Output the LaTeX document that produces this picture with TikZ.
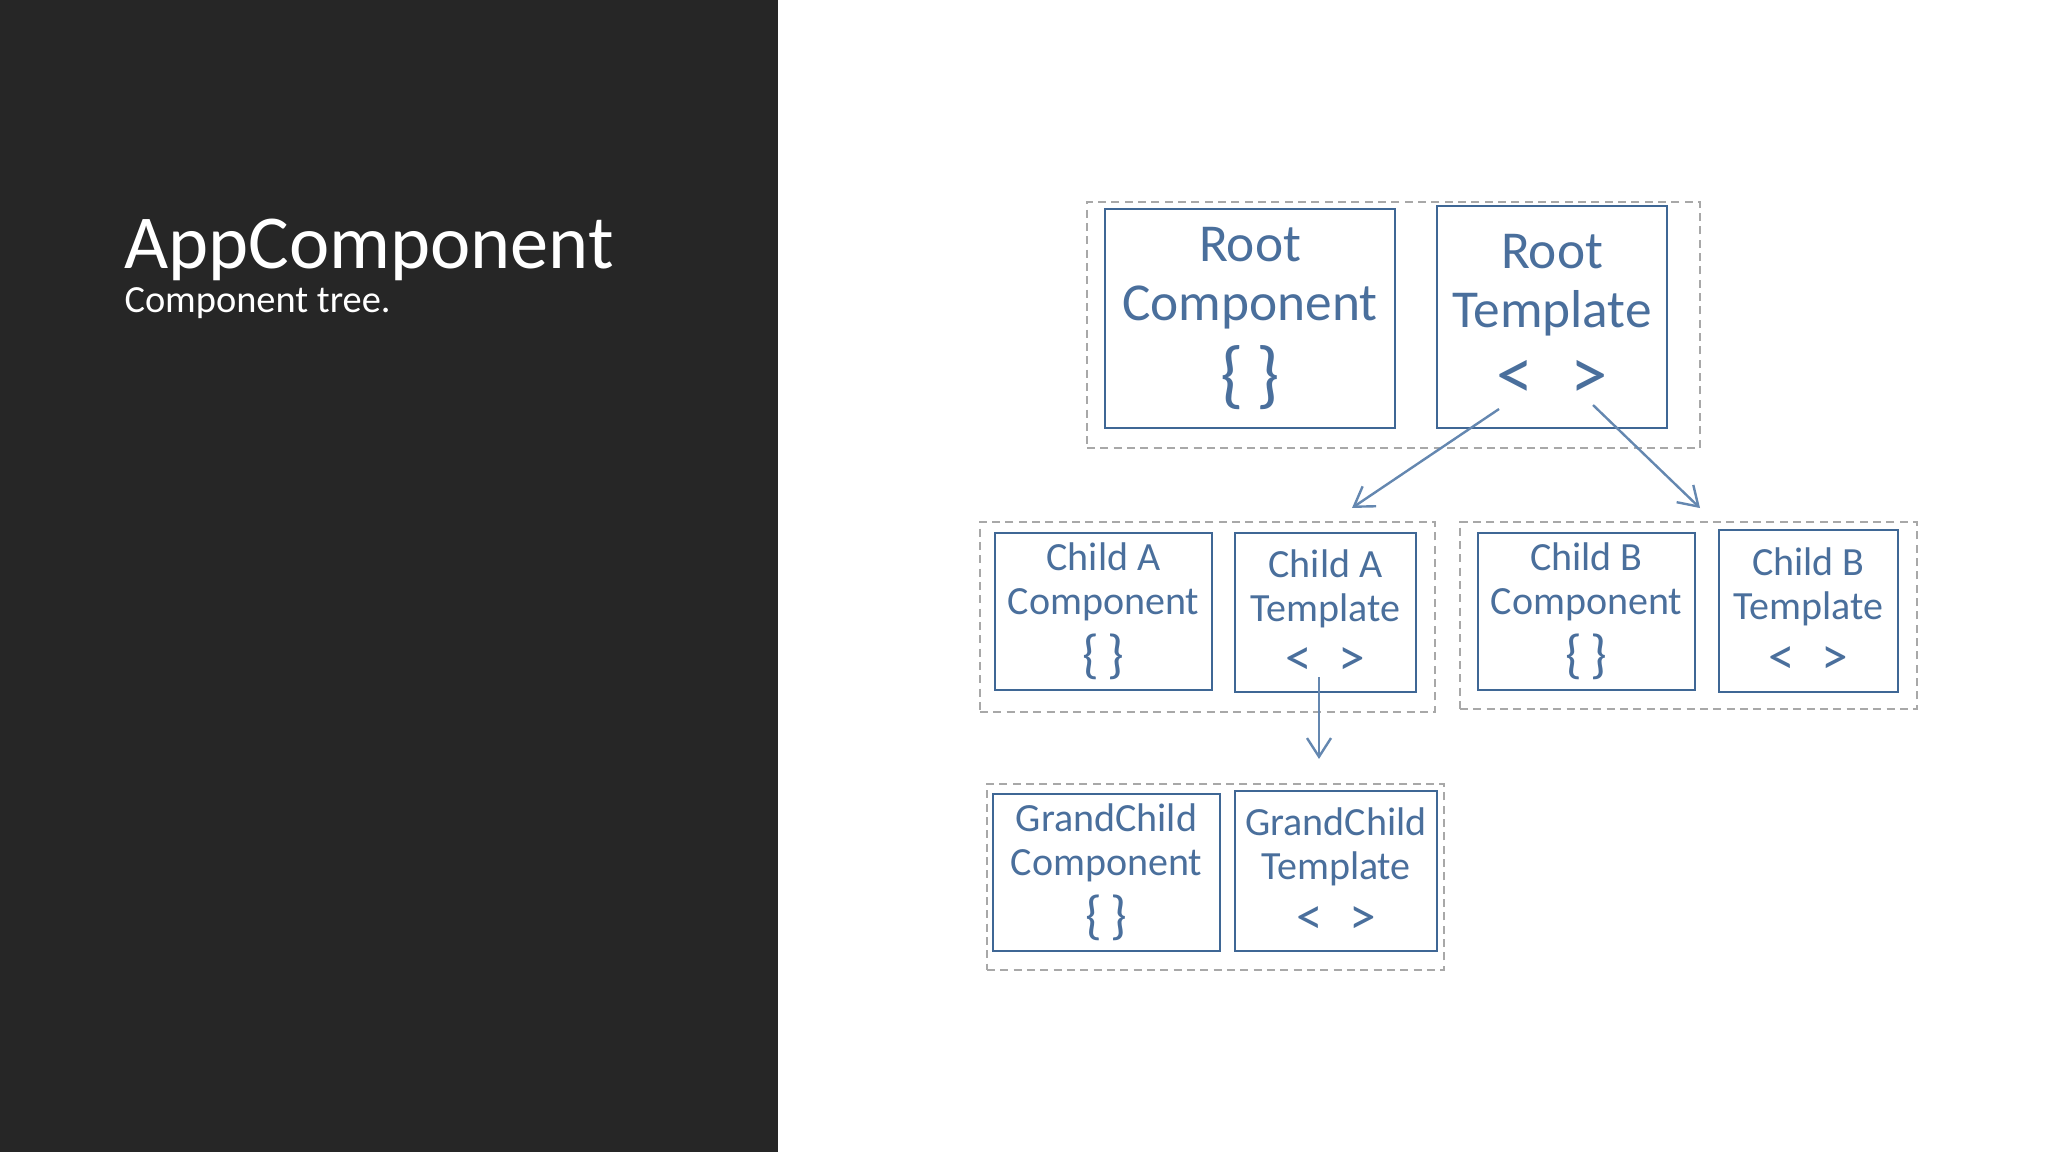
\documentclass[tikz,border=0pt]{standalone}
\usepackage{fontspec}
\setmainfont{Carlito}
\usetikzlibrary{positioning, arrows.meta, calc}

\definecolor{panelgray}{HTML}{262626}
\definecolor{sketchblue}{HTML}{3F6795}
\definecolor{textblue}{HTML}{4A6F9C}
\definecolor{arrowblue}{HTML}{6487B0}
\definecolor{dashgray}{HTML}{A8A8A8}

\newcommand{\bigsym}[1]{{\fontsize{28pt}{24pt}\selectfont #1}}
\newcommand{\smallsym}[1]{{\fontsize{20pt}{18pt}\selectfont #1}}

\begin{document}
\begin{tikzpicture}[
				x=0.375pt, y=-0.375pt,
				>={Straight Barb[length=7pt, width=9pt]},
				box/.style={draw=sketchblue, line width=1pt, text=textblue, align=center, inner sep=0pt},
				bigbox/.style={box, font=\fontsize{20pt}{22pt}\selectfont},
				smallbox/.style={box, font=\fontsize{15pt}{16.5pt}\selectfont},
				group/.style={draw=dashgray, line width=0.75pt, dash pattern=on 3pt off 2pt},
				arrow/.style={->, draw=arrowblue, line width=0.9pt}
				]
				
				% Fondo
				\useasboundingbox (0,0) rectangle (2048,1152);
				\fill[panelgray] (0,0) rectangle (778,1152);
				
				% Titulo
				\node[anchor=base west, inner sep=0pt, text=white, font=\fontsize{28.6pt}{30pt}\selectfont] (title) at (124,268) {AppComponent};
				\node[anchor=base west, inner sep=0pt, text=white, font=\fontsize{14.4pt}{16pt}\selectfont] (subtitle) at (124,312) {Component tree.};
				
				% Raiz
				\node[group, minimum width=229.9pt, minimum height=92.3pt] (rootgrp) at (1393.5,325) {};
				\node[bigbox, minimum width=108.8pt, minimum height=82.1pt] (rc) at (1250,318.5) {Root\\Component\\[5pt]\bigsym{\{\,\}}};
				\node[bigbox, minimum width=86.3pt, minimum height=83.3pt] (rt) at (1552,317) {Root\\Template\\[5pt]\bigsym{<\enspace>}};
				
				% Hijo A
				\node[group, minimum width=170.6pt, minimum height=71.3pt] (agrp) at (1207.5,617) {};
				\node[smallbox, minimum width=81.4pt, minimum height=58.9pt] (ac) at (1103.5,611.5) {Child A\\Component\\[4pt]\smallsym{\{\,\}}};
				\node[smallbox, minimum width=67.9pt, minimum height=59.6pt] (at) at (1325.5,612.5) {Child A\\Template\\[4pt]\smallsym{<\enspace>}};
				
				% Hijo B
				\node[group, minimum width=171.4pt, minimum height=70.1pt] (bgrp) at (1688.5,615.5) {};
				\node[smallbox, minimum width=81.4pt, minimum height=58.9pt] (bc) at (1586.5,611.5) {Child B\\Component\\[4pt]\smallsym{\{\,\}}};
				\node[smallbox, minimum width=67.1pt, minimum height=60.8pt] (bt) at (1808.5,611) {Child B\\Template\\[4pt]\smallsym{<\enspace>}};
				
				% Nieto
				\node[group, minimum width=171.4pt, minimum height=69.8pt] (ggrp) at (1215.5,877) {};
				\node[smallbox, minimum width=85.1pt, minimum height=58.9pt] (gc) at (1106.5,872.5) {GrandChild\\Component\\[4pt]\smallsym{\{\,\}}};
				\node[smallbox, minimum width=75.8pt, minimum height=60pt] (gt) at (1336,871) {GrandChild\\Template\\[4pt]\smallsym{<\enspace>}};
				
				% Flechas
				\draw[arrow] ($(rt.center)+(-53,92)$) -- ($(agrp.north)+(144.5,-13)$);
				\draw[arrow] ($(rt.center)+(41,88)$) -- ($(bgrp.north)+(11.5,-13)$);
				\draw[arrow] ($(at.center)+(-6.5,64.5)$) -- ($(ggrp.north)+(103.5,-24)$);
				
			\end{tikzpicture}
\end{document}
